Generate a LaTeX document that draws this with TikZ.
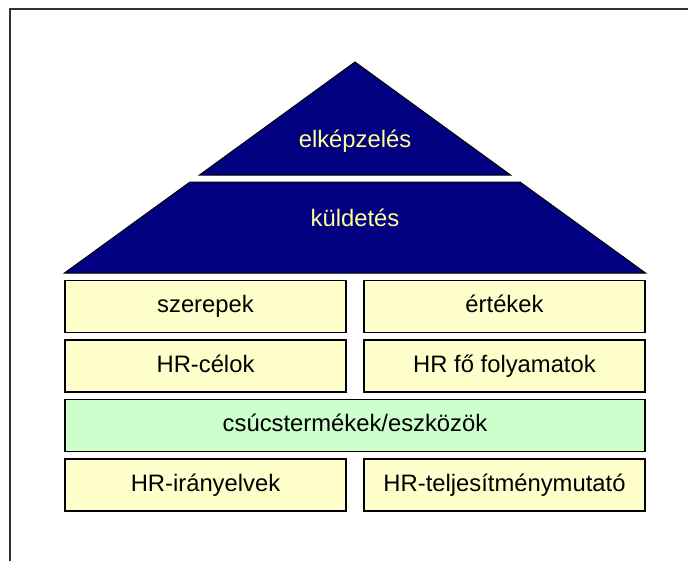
\documentclass[tikz,border=0pt]{standalone}
\usepackage{fontspec}
\setmainfont{Liberation Sans}
\definecolor{navy}{HTML}{000080}
\definecolor{paleyellow}{HTML}{FFFFCC}
\definecolor{palegreen}{HTML}{CCFFCC}
\definecolor{txtyellow}{HTML}{FFFF99}
\definecolor{framegray}{HTML}{333333}
\tikzset{
  box/.style={draw=black, line width=1.5pt, fill=paleyellow, minimum height=52pt, inner sep=0pt, text height=17pt, text depth=5pt, font=\fontsize{23.8}{28}\selectfont},
  halfbox/.style={box, minimum width=281pt},
  greenbox/.style={box, fill=palegreen, minimum width=580pt},
  roof/.style={fill=navy, draw=black, line width=1pt},
  rooftext/.style={text=txtyellow, font=\fontsize{23.8}{28}\selectfont, inner sep=0pt, anchor=base}
}
\begin{document}
\begin{tikzpicture}[x=1pt,y=-1pt]
\useasboundingbox (0,0) rectangle (688,560);
\draw[framegray, line width=2pt] (10,562) -- (10,9) -- (690,9);
% roof
\draw[roof] (355,62) -- (510.5,175) -- (199.5,175) -- cycle;
\draw[roof] (190,182) -- (520,182) -- (645.5,273) -- (64.5,273) -- cycle;
\node[rooftext] (vision) at (355,147) {elképzelés};
\node[rooftext] (mission) at (355,226) {küldetés};
% boxes
\node[halfbox] (roles) at (205.5,306.5) {szerepek};
\node[halfbox] (values) at (504.5,306.5) {értékek};
\node[halfbox] (goals) at (205.5,366) {HR-célok};
\node[halfbox] (proc) at (504.5,366) {HR fő folyamatok};
\node[greenbox] (tools) at (355,425.5) {csúcstermékek/eszközök};
\node[halfbox] (policy) at (205.5,485) {HR-irányelvek};
\node[halfbox] (kpi) at (504.5,485) {HR-teljesítménymutató};
\end{tikzpicture}
\end{document}
